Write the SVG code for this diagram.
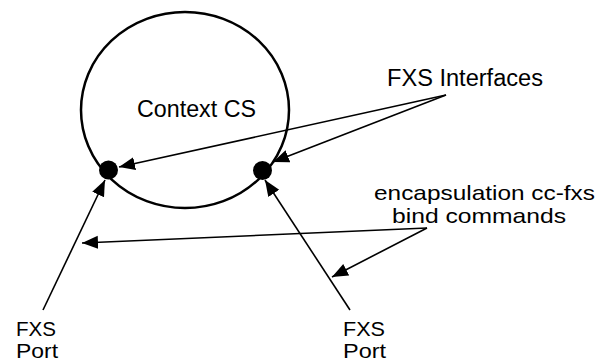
<svg xmlns="http://www.w3.org/2000/svg" width="598" height="363" viewBox="0 0 598 363">
<style>
text{font-family:"Liberation Sans",Arial,sans-serif;font-size:23.5px;fill:#000}
.t2{font-size:21px}
.c{fill:none;stroke:#000;stroke-width:2.5}
.l{fill:none;stroke:#000;stroke-width:1.6}
.dot{fill:#000}
</style>
<defs>
<marker id="ah" markerUnits="userSpaceOnUse" markerWidth="17" markerHeight="14" refX="16" refY="6.5" orient="auto">
<path d="M0,0 L16,6.5 L0,13 z" fill="#000"/>
</marker>
</defs>
<rect width="598" height="363" fill="#fff"/>
<g id="context">
<ellipse class="c" cx="185" cy="110" rx="104" ry="98"/>
<text x="137" y="117" textLength="119" lengthAdjust="spacingAndGlyphs">Context CS</text>
</g>
<g id="iface-left"><circle class="dot" cx="108.5" cy="170" r="9.5"/></g>
<g id="iface-right"><circle class="dot" cx="262.5" cy="170.5" r="9.5"/></g>
<g id="label-interfaces"><text x="387" y="86" textLength="156" lengthAdjust="spacingAndGlyphs">FXS Interfaces</text></g>
<g id="label-encap">
<text class="t2" x="374" y="200" textLength="221" lengthAdjust="spacingAndGlyphs">encapsulation cc-fxs</text>
<text class="t2" x="392" y="223" textLength="174" lengthAdjust="spacingAndGlyphs">bind commands</text>
</g>
<g id="port-left"><text class="t2" x="16" y="336" textLength="40" lengthAdjust="spacingAndGlyphs">FXS</text><text class="t2" x="16" y="358" textLength="42" lengthAdjust="spacingAndGlyphs">Port</text></g>
<g id="port-right"><text class="t2" x="343" y="336" textLength="42" lengthAdjust="spacingAndGlyphs">FXS</text><text class="t2" x="343" y="358" textLength="43" lengthAdjust="spacingAndGlyphs">Port</text></g>
<g id="connectors">
<line class="l" x1="446" y1="95" x2="119" y2="167" marker-end="url(#ah)"/>
<line class="l" x1="446" y1="95" x2="273" y2="162" marker-end="url(#ah)"/>
<line class="l" x1="43" y1="310" x2="105" y2="180" marker-end="url(#ah)"/>
<line class="l" x1="350" y1="310" x2="265" y2="180" marker-end="url(#ah)"/>
<line class="l" x1="427" y1="228" x2="82" y2="243" marker-end="url(#ah)"/>
<line class="l" x1="427" y1="228" x2="332" y2="277" marker-end="url(#ah)"/>
</g>
</svg>
